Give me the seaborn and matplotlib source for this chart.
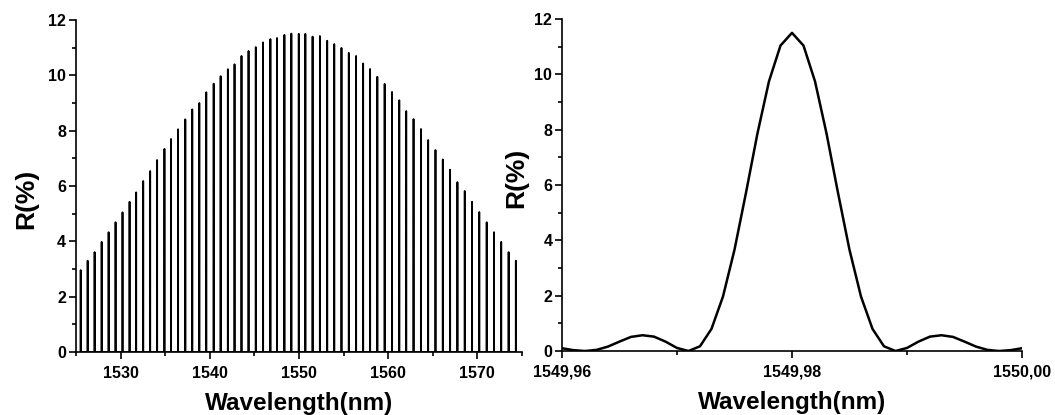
import matplotlib
matplotlib.use("Agg")
import matplotlib.pyplot as plt
from matplotlib.ticker import FixedLocator, MultipleLocator
import pandas as pd
import seaborn as sns

# Sampled-grating reflection comb: channel centre (nm) and peak reflectivity (%)
comb_wavelength = [
    1525.53, 1526.31, 1527.09, 1527.88, 1528.66, 1529.44, 1530.22, 1531.01,
    1531.75, 1532.54, 1533.32, 1534.10, 1534.92, 1535.66, 1536.45, 1537.26,
    1538.04, 1538.83, 1539.61, 1540.44, 1541.22, 1542.03, 1542.78, 1543.56,
    1544.35, 1545.16, 1545.98, 1546.80, 1547.54, 1548.37, 1549.15, 1549.98,
    1550.72, 1551.53, 1552.35, 1553.17, 1553.96, 1554.77, 1555.59, 1556.41,
    1557.20, 1557.98, 1558.79, 1559.61, 1560.44, 1561.25, 1562.03, 1562.85,
    1563.68, 1564.49, 1565.31, 1566.13, 1566.95, 1567.77, 1568.59, 1569.41,
    1570.22, 1571.05, 1571.87, 1572.68, 1573.51, 1574.32,
]
comb_reflectivity = [
    2.96, 3.30, 3.61, 3.98, 4.33, 4.69, 5.05, 5.43,
    5.77, 6.18, 6.54, 6.94, 7.34, 7.70, 8.05, 8.41,
    8.77, 9.00, 9.39, 9.70, 9.97, 10.22, 10.40, 10.70,
    10.88, 11.02, 11.19, 11.31, 11.35, 11.46, 11.51, 11.50,
    11.50, 11.40, 11.42, 11.25, 11.13, 10.99, 10.81, 10.70,
    10.43, 10.23, 9.95, 9.69, 9.40, 9.10, 8.71, 8.42,
    8.06, 7.66, 7.30, 6.96, 6.59, 6.14, 5.82, 5.43,
    5.06, 4.69, 4.33, 3.98, 3.61, 3.30,
]

# Detail of the channel at 1549.98 nm
channel_wavelength = [
    1549.960, 1549.961, 1549.962, 1549.963, 1549.964, 1549.965, 1549.966,
    1549.967, 1549.968, 1549.969, 1549.970, 1549.971, 1549.972, 1549.973,
    1549.974, 1549.975, 1549.976, 1549.977, 1549.978, 1549.979, 1549.980,
    1549.981, 1549.982, 1549.983, 1549.984, 1549.985, 1549.986, 1549.987,
    1549.988, 1549.989, 1549.990, 1549.991, 1549.992, 1549.993, 1549.994,
    1549.995, 1549.996, 1549.997, 1549.998, 1549.999, 1550.000,
]
channel_reflectivity = [
    0.10, 0.03, 0.00, 0.04, 0.16, 0.34, 0.51, 0.57, 0.52, 0.34, 0.11,
    0.00, 0.17, 0.80, 1.97, 3.66, 5.72, 7.87, 9.75, 11.04, 11.50,
    11.04, 9.75, 7.87, 5.72, 3.66, 1.97, 0.80, 0.17, 0.00,
    0.11, 0.34, 0.52, 0.57, 0.51, 0.34, 0.16, 0.04, 0.00, 0.03, 0.10,
]

left_xticks = [1530, 1540, 1550, 1560, 1570]
right_xticks = [1549.96, 1549.98, 1550.00]
right_xticklabels = ["1549,96", "1549,98", "1550,00"]
y_label = "R(%)"
x_label = "Wavelength(nm)"

# Each comb channel is drawn as a narrow main lobe (first zeros +/- 0.009 nm)
LOBE = 0.009
comb_x, comb_y = [], []
for c, h in zip(comb_wavelength, comb_reflectivity):
    comb_x += [c - LOBE, c, c + LOBE]
    comb_y += [0.0, h, 0.0]
comb_df = pd.DataFrame({"wavelength": comb_x, "R": comb_y})
channel_df = pd.DataFrame({"wavelength": channel_wavelength, "R": channel_reflectivity})

sns.set_style("ticks")
plt.rcParams["font.family"] = ["Liberation Sans", "DejaVu Sans"]
plt.rcParams["font.weight"] = "bold"
plt.rcParams["axes.labelweight"] = "bold"
for key in ("text.color", "axes.labelcolor", "xtick.color", "ytick.color",
            "axes.edgecolor"):
    plt.rcParams[key] = "black"

fig = plt.figure(figsize=(10.55, 4.15), dpi=100)
ax1 = fig.add_axes([0.0720, 0.1518, 0.4227, 0.8])
ax2 = fig.add_axes([0.5327, 0.1542, 0.4360, 0.8])

sns.lineplot(data=comb_df, x="wavelength", y="R", ax=ax1, sort=False,
             estimator=None, color="black", linewidth=1.3)
sns.lineplot(data=channel_df, x="wavelength", y="R", ax=ax2, sort=False,
             estimator=None, color="black", linewidth=1.8)

ax1.set_xlim(1525, 1575)
ax1.xaxis.set_major_locator(FixedLocator(left_xticks))
ax1.xaxis.set_minor_locator(MultipleLocator(5))

ax2.set_xlim(1549.96, 1550.00)
ax2.set_xticks(right_xticks)
ax2.set_xticklabels(right_xticklabels)
ax2.xaxis.set_minor_locator(MultipleLocator(0.01))

for ax in (ax1, ax2):
    ax.set_ylim(0, 12)
    ax.yaxis.set_major_locator(MultipleLocator(2))
    ax.yaxis.set_minor_locator(MultipleLocator(1))
    sns.despine(ax=ax)
    for side in ("left", "bottom"):
        ax.spines[side].set_linewidth(1.2)
        ax.spines[side].set_color("black")
    ax.tick_params(which="major", direction="out", length=5, width=1.2,
                   color="black", labelcolor="black", labelsize=11.5, pad=2)
    ax.tick_params(which="minor", direction="out", length=3.2, width=1.2,
                   color="black")
    ax.tick_params(axis="x", which="major", pad=5)
    for lab in ax.get_xticklabels() + ax.get_yticklabels():
        lab.set_fontweight("bold")
    ax.set_xlabel(x_label, fontsize=17.5, fontweight="bold", labelpad=8,
                  color="black")
    ax.set_ylabel(y_label, fontsize=19, fontweight="bold", color="black")

ax1.yaxis.set_label_coords(-0.084, 0.46)
ax2.yaxis.set_label_coords(-0.074, 0.52)

fig.savefig("out.png", dpi=100, facecolor="white")
